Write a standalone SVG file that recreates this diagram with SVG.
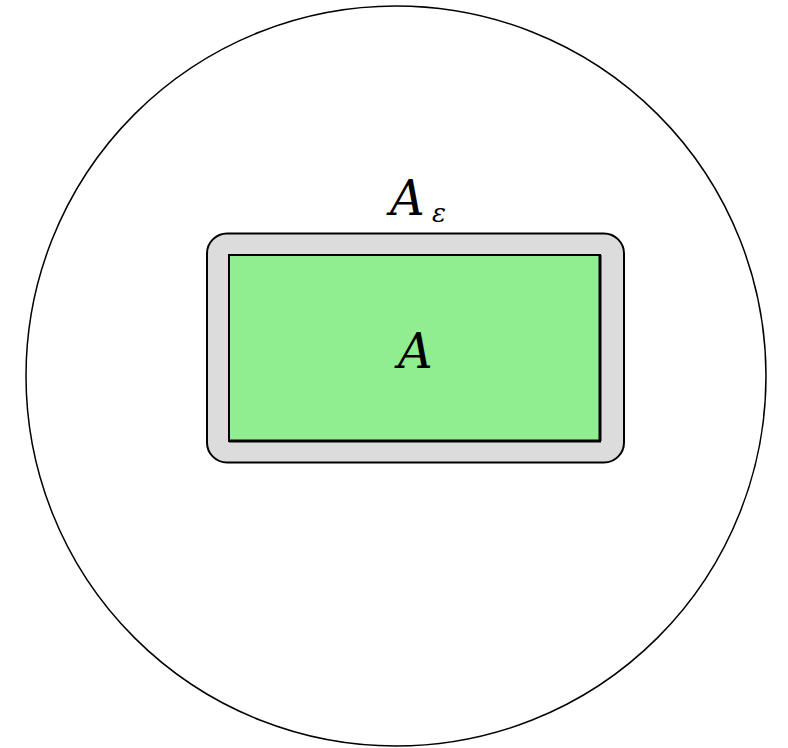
<svg xmlns="http://www.w3.org/2000/svg" width="788" height="748" viewBox="0 0 788 748">
<style>
text{font-family:'DejaVu Serif','Liberation Serif',serif;font-style:italic;fill:#000}
</style>
<rect width="788" height="748" fill="#fff"/>
<g id="ball"><circle cx="396" cy="376" r="370" fill="none" stroke="#000" stroke-width="1.5"/></g>
<g id="A-eps">
<rect x="207" y="233.5" width="417" height="229" rx="20" ry="20" fill="#dcdcdc" stroke="#000" stroke-width="2"/>
<text x="390" y="215" font-size="48">A</text>
<text x="432" y="222" font-size="26">ε</text>
</g>
<g id="A">
<rect x="229" y="255" width="371" height="186" fill="#90ee90" stroke="#000" stroke-width="2"/>
<line x1="600" y1="255" x2="600" y2="441" stroke="#000" stroke-width="3"/>
<line x1="229" y1="441" x2="601" y2="441" stroke="#000" stroke-width="3"/>
<text x="398" y="368" font-size="48">A</text>
</g>
<g id="connectors"/>
</svg>
